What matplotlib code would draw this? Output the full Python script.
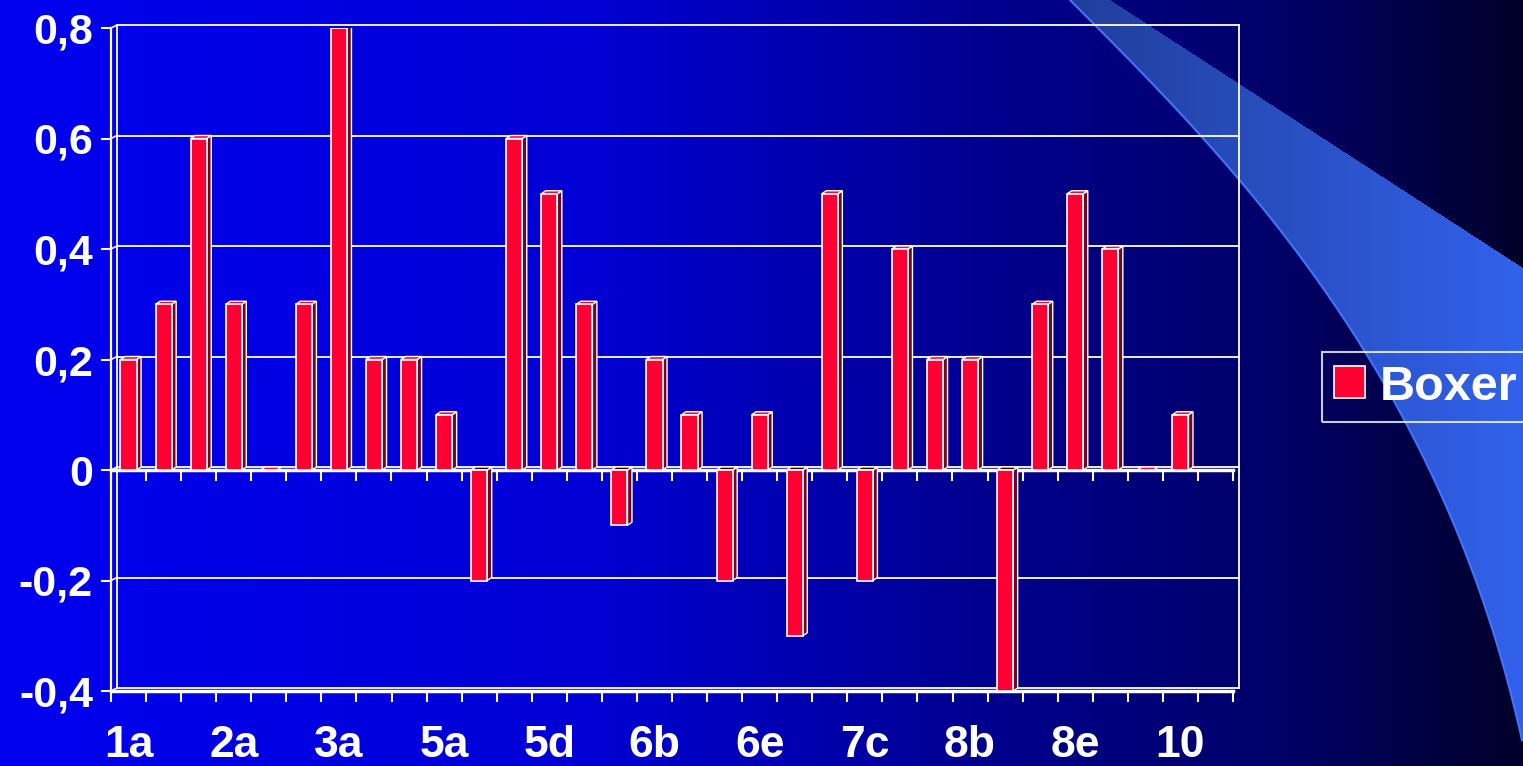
import numpy as np
import matplotlib
matplotlib.use("Agg")
import matplotlib.pyplot as plt
from matplotlib.path import Path

# values, one bar per category
values = [0.2, 0.3, 0.6, 0.3, 0.0, 0.3, 0.8, 0.2, 0.2, 0.1, -0.2,
          0.6, 0.5, 0.3, -0.1, 0.2, 0.1, -0.2, 0.1, -0.3, 0.5, -0.2,
          0.4, 0.2, 0.2, -0.4, 0.3, 0.5, 0.4, 0.0, 0.1]
empty_slots = 1  # the category axis has one more (empty) slot at the end
shown_labels = ["1a", "2a", "3a", "5a", "5d", "6b", "6e", "7c", "8b", "8e", "10"]
label_step = 3
y_ticks = [-0.4, -0.2, 0.0, 0.2, 0.4, 0.6, 0.8]
y_labels = ["-0,4", "-0,2", "0", "0,2", "0,4", "0,6", "0,8"]
series_name = "Boxer"

W, H = 1523, 766
plt.rcParams["font.family"] = ["Liberation Sans", "DejaVu Sans"]
plt.rcParams["font.weight"] = "bold"

fig = plt.figure(figsize=(W / 100, H / 100), dpi=100)


def bezier(p0, p1, p2, p3, num=200):
    t = np.linspace(0, 1, num)[:, None]
    pts = [np.array(p, float) for p in (p0, p1, p2, p3)]
    return ((1 - t) ** 3 * pts[0] + 3 * (1 - t) ** 2 * t * pts[1]
            + 3 * (1 - t) * t ** 2 * pts[2] + t ** 3 * pts[3])


# --- slide background: blue gradient plus the light swoosh on the right
bg = fig.add_axes([0, 0, 1, 1])
bg.set_axis_off()
cols = np.arange(W)
blue = np.interp(cols, [0, 590, 1000, 1280, 1522], [240, 212, 140, 104, 42]) / 255
img = np.zeros((H, W, 3))
img[:, :, 2] = blue

edge = bezier((1070, 0), (1230, 160), (1440, 370), (1522, 740))
swoosh = np.vstack([edge, [(1540, 770), (1540, 275), (1523, 268), (1110, 0)]])
yy, xx = np.mgrid[0:H, 0:W]
inside = Path(swoosh).contains_points(
    np.column_stack([xx.ravel() + 0.5, yy.ravel() + 0.5])).reshape(H, W)
sw = np.zeros((H, W, 3))
sw[:, :, 0] = np.interp(cols, [1070, 1523], [32, 50])[None, :] / 255
sw[:, :, 1] = np.interp(cols, [1070, 1523], [62, 98])[None, :] / 255
sw[:, :, 2] = np.interp(cols, [1070, 1523], [155, 236])[None, :] / 255
img[inside] = sw[inside]
bg.imshow(img, extent=(0, W, H, 0), aspect="auto", interpolation="bilinear")
bg.plot(edge[:, 0], edge[:, 1], color=(0.25, 0.45, 1.0), lw=1.5)
bg.set_xlim(0, W)
bg.set_ylim(H, 0)

# --- chart
ax = fig.add_axes([111 / W, (H - 691) / H, 1122 / W, 663 / H])
ax.patch.set_alpha(0)
n = len(values)
slots = n + empty_slots
x = np.arange(n)
ax.set_xlim(-0.5, slots - 0.5)
ax.set_ylim(y_ticks[0], y_ticks[-1])

bb = ax.get_window_extent()
px_x = slots / bb.width
px_y = (y_ticks[-1] - y_ticks[0]) / bb.height

# back wall, shifted up-right for the 3D look
wx, wy = 6 * px_x, 3 * px_y
for t in y_ticks:
    ax.plot([-0.5 + wx, slots - 0.5 + wx], [t + wy, t + wy], color="white",
            lw=1.3, clip_on=False, zorder=1)
    ax.plot([-0.5, -0.5 + wx], [t, t + wy], color="white", lw=1.2,
            clip_on=False, zorder=1)
for xe in (-0.5 + wx, slots - 0.5 + wx):
    ax.plot([xe, xe], [y_ticks[0] + wy, y_ticks[-1] + wy], color="white",
            lw=1.3, clip_on=False, zorder=1)

bw = 0.46
red = "#FF0033"
ax.bar(x, values, width=bw, color=red, edgecolor="white", linewidth=1.2,
       zorder=4, label=series_name)
bx, by = 4.5 * px_x, 3 * px_y
for xi, v in zip(x, values):
    l, r = xi - bw / 2, xi + bw / 2
    top, bot = max(v, 0), min(v, 0)
    ax.fill([r, r + bx, r + bx, r], [bot, bot + by, top + by, top],
            facecolor="#6E0820", edgecolor="white", lw=1, zorder=3)
    ax.fill([l, l + bx, r + bx, r], [top, top + by, top + by, top],
            facecolor=red if v >= 0 else "#2A0008", edgecolor="white",
            lw=1, zorder=3)

for side in ("top", "right"):
    ax.spines[side].set_visible(False)
ax.spines["left"].set_color("white")
ax.spines["left"].set_linewidth(1.6)
ax.spines["bottom"].set_color("white")
ax.spines["bottom"].set_linewidth(2.5)

ax.set_yticks(y_ticks, labels=y_labels)
ax.tick_params(axis="y", length=7, width=1.5, color="white",
               labelcolor="white", labelsize=31, pad=6)
ax.set_xticks(x[::label_step], labels=shown_labels)
ax.set_xticks(np.arange(slots + 1) - 0.5, minor=True)
ax.tick_params(axis="x", which="major", length=0, labelcolor="white",
               labelsize=32, pad=24.5)
ax.tick_params(axis="x", which="minor", length=8, width=1.5, color="white")

# category axis crossing at zero
zero_pos = (0 - y_ticks[0]) / (y_ticks[-1] - y_ticks[0])
sec = ax.secondary_xaxis(zero_pos)
sec.set_xticks(np.arange(slots + 1) - 0.5)
sec.tick_params(length=8, width=1.5, color="white", labelbottom=False,
                labeltop=False)
for s in sec.spines.values():
    s.set_color("white")
    s.set_linewidth(2.5)

leg = ax.legend(loc="center left", bbox_to_anchor=(1322 / W, (H - 387) / H),
                bbox_transform=fig.transFigure, frameon=True, fancybox=False,
                fontsize=35, handlelength=0.64, handleheight=0.64,
                handletextpad=0.3, borderpad=0.25, borderaxespad=0)
leg.get_frame().set_facecolor("none")
leg.get_frame().set_edgecolor("white")
leg.get_frame().set_linewidth(1.5)
for t in leg.get_texts():
    t.set_color("white")

fig.savefig("out.png", dpi=100)
